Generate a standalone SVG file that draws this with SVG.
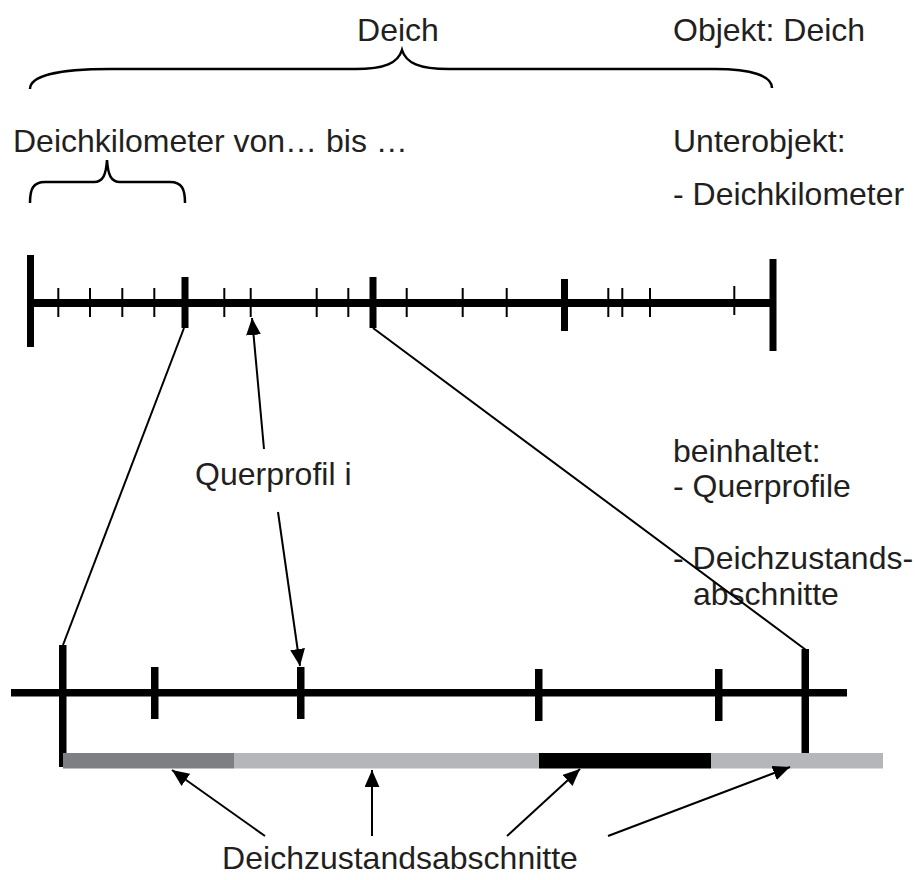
<svg xmlns="http://www.w3.org/2000/svg" width="915" height="880" viewBox="0 0 915 880">
<style>
text{font-family:"Liberation Sans",Arial,sans-serif;font-size:32px;fill:#231f20}
.brace{fill:none;stroke:#000;stroke-width:2.5}
.thin{stroke:#000;stroke-width:2}
.conn{stroke:#000;stroke-width:2;fill:none}
</style>
<defs>
<marker id="ahb" viewBox="0 0 16 14" refX="16" refY="7" markerWidth="17" markerHeight="15" markerUnits="userSpaceOnUse" orient="auto">
<path d="M0,0 L16,7 L0,14 z" fill="#000"/>
</marker>
</defs>

<g id="labels">
<text x="398" y="41" text-anchor="middle">Deich</text>
<text x="673" y="41">Objekt: Deich</text>
<text x="13" y="152">Deichkilometer von… bis …</text>
<text x="673" y="152">Unterobjekt:</text>
<text x="673" y="205">- Deichkilometer</text>
<text x="673" y="462">beinhaltet:</text>
<text x="673" y="497">- Querprofile</text>
<text x="673" y="569">- Deichzustands-</text>
<text x="693" y="605">abschnitte</text>
</g>

<g id="brace-deich">
<path class="brace" d="M30,89 C30,76 58,69 110,69 L355,69 C385,69 398,63 402,50 C406,63 419,69 449,69 L715,69 C752,69 772,76 772,88"/>
</g>
<g id="brace-km">
<path class="brace" d="M30,203 C30,189 33,182 45,182 L94,182 C103,182 106,175 107,160 C108,175 111,182 120,182 L170,182 C182,182 185,189 185,203"/>
</g>

<g id="upper-axis">
<rect x="30" y="299" width="744" height="8" fill="#000"/>
<rect x="27" y="255" width="7" height="92" fill="#000"/>
<rect x="769.5" y="259" width="7" height="92" fill="#000"/>
<rect x="181.5" y="277" width="7" height="51" fill="#000"/>
<rect x="369.5" y="277" width="7" height="51" fill="#000"/>
<rect x="561" y="279" width="7" height="52" fill="#000"/>
<g class="thin">
<line x1="58.3" y1="288" x2="58.3" y2="317"/>
<line x1="90" y1="288" x2="90" y2="317"/>
<line x1="122.3" y1="288" x2="122.3" y2="317"/>
<line x1="154.3" y1="288" x2="154.3" y2="317"/>
<line x1="224.3" y1="288" x2="224.3" y2="317"/>
<line x1="250.7" y1="288" x2="250.7" y2="317"/>
<line x1="316.7" y1="288" x2="316.7" y2="317"/>
<line x1="348.3" y1="288" x2="348.3" y2="317"/>
<line x1="406.7" y1="288" x2="406.7" y2="317"/>
<line x1="462.7" y1="288" x2="462.7" y2="317"/>
<line x1="506.7" y1="288" x2="506.7" y2="317"/>
<line x1="608.3" y1="288" x2="608.3" y2="317"/>
<line x1="622.3" y1="288" x2="622.3" y2="317"/>
<line x1="650" y1="288" x2="650" y2="317"/>
<line x1="734.3" y1="286" x2="734.3" y2="315"/>
</g>
</g>

<g id="lower-axis">
<rect x="11" y="689" width="836" height="7.5" fill="#000"/>
<rect x="59" y="645" width="7.5" height="122" fill="#000"/>
<rect x="151" y="667" width="7.5" height="52" fill="#000"/>
<rect x="297" y="667" width="7.5" height="52" fill="#000"/>
<rect x="535" y="669" width="7.5" height="52" fill="#000"/>
<rect x="715" y="669" width="7.5" height="52" fill="#000"/>
<rect x="801.5" y="649" width="7.5" height="104" fill="#000"/>
</g>

<g id="state-bar">
<rect x="63" y="753" width="171" height="15.5" fill="#7d7f83"/>
<rect x="234" y="753" width="305" height="15.5" fill="#b4b6b9"/>
<rect x="539" y="753" width="172" height="15.5" fill="#000"/>
<rect x="711" y="753" width="172" height="15.5" fill="#b4b6b9"/>
</g>

<g id="querprofil-label">
<text x="195" y="485">Querprofil i</text>
</g>
<g id="bottom-label">
<text x="400" y="869" text-anchor="middle">Deichzustandsabschnitte</text>
</g>

<g id="connectors">
<line class="conn" x1="184" y1="328" x2="63" y2="645"/>
<line class="conn" x1="373" y1="328" x2="806" y2="650"/>
<line class="conn" x1="264" y1="449" x2="252" y2="318" marker-end="url(#ahb)"/>
<line class="conn" x1="278" y1="512" x2="300" y2="666" marker-end="url(#ahb)"/>
<line class="conn" x1="265" y1="836" x2="172" y2="770" marker-end="url(#ahb)"/>
<line class="conn" x1="372" y1="836" x2="372" y2="770" marker-end="url(#ahb)"/>
<line class="conn" x1="507" y1="836" x2="580" y2="769" marker-end="url(#ahb)"/>
<line class="conn" x1="608" y1="836" x2="790" y2="767" marker-end="url(#ahb)"/>
</g>
</svg>
